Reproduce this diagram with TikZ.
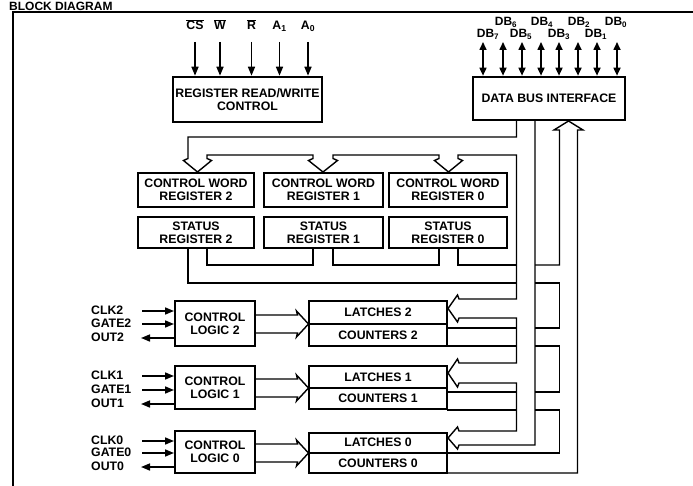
\documentclass[tikz,border=0pt]{standalone}
\usepackage{fontspec}
\setmainfont{Liberation Sans}
\usetikzlibrary{arrows.meta}
\begin{document}
\begin{tikzpicture}[x=1pt,y=-1pt,
  font=\fontsize{12.3}{13}\selectfont\bfseries,
  blk/.style={draw,line width=2.6pt,inner sep=0pt,align=center},
  mblk/.style={draw,line width=2pt,inner sep=0pt,align=center},
  bus/.style={line width=1.4pt,line join=miter},
  sig/.style={line width=1.6pt,-{Triangle[length=9pt,width=7pt]}},
  dsig/.style={line width=1.6pt,{Triangle[length=8pt,width=7pt]}-{Triangle[length=8pt,width=7pt]}},
  lbl/.style={inner sep=0pt,anchor=base west},
  clbl/.style={inner sep=0pt,anchor=base},
  frame/.style={line width=2pt}
]
\useasboundingbox (0,0) rectangle (693,486);

% title
\node[anchor=base west,inner sep=0pt,font=\fontsize{12}{12}\selectfont\bfseries] (title) at (9,10.2) {BLOCK DIAGRAM};

% frame
\coordinate (fbl) at (13,486);
\coordinate (ftl) at (13,12.5);
\coordinate (ftr) at (693,12.5);
\draw[frame] (fbl) -- (ftl) -- (ftr);

% upper boxes
\node[blk,minimum width=149pt,minimum height=45pt] (rrw) at (247.5,99.5) {REGISTER READ/WRITE\\CONTROL};
\node[blk,minimum width=152pt,minimum height=43pt] (dbi) at (549,98.5) {DATA BUS INTERFACE};

\node[blk,minimum width=116pt,minimum height=34pt] (cwr2) at (196,190) {CONTROL WORD\\REGISTER 2};
\node[blk,minimum width=119pt,minimum height=34pt] (cwr1) at (323.5,190) {CONTROL WORD\\REGISTER 1};
\node[blk,minimum width=118pt,minimum height=34pt] (cwr0) at (448,190) {CONTROL WORD\\REGISTER 0};
\node[blk,minimum width=116pt,minimum height=31pt] (sr2) at (196,232.5) {STATUS\\REGISTER 2};
\node[blk,minimum width=119pt,minimum height=31pt] (sr1) at (323.5,232.5) {STATUS\\REGISTER 1};
\node[blk,minimum width=118pt,minimum height=31pt] (sr0) at (448,232.5) {STATUS\\REGISTER 0};

% counter rows
\node[mblk,minimum width=80pt,minimum height=45pt] (cl2) at (215,323.5) {CONTROL\\LOGIC 2};
\node[mblk,minimum width=80pt,minimum height=43pt] (cl1) at (215,387.5) {CONTROL\\LOGIC 1};
\node[mblk,minimum width=80pt,minimum height=42pt] (cl0) at (215,452) {CONTROL\\LOGIC 0};
\node[mblk,minimum width=138pt,minimum height=23pt] (lat2) at (378,312.5) {LATCHES 2};
\node[mblk,minimum width=138pt,minimum height=22pt] (cnt2) at (378,335) {COUNTERS 2};
\node[mblk,minimum width=138pt,minimum height=22pt] (lat1) at (378,377) {LATCHES 1};
\node[mblk,minimum width=138pt,minimum height=21pt] (cnt1) at (378,398.5) {COUNTERS 1};
\node[mblk,minimum width=138pt,minimum height=20.5pt] (lat0) at (378,442.75) {LATCHES 0};
\node[mblk,minimum width=138pt,minimum height=20pt] (cnt0) at (378,463) {COUNTERS 0};

% top control inputs
\foreach \n/\x/\t in {cs/195/{$\overline{\hbox{CS}}$},w/220/{$\overline{\hbox{W}}$},r/251.5/{$\overline{\hbox{R}}$},aone/279.5/{A\textsubscript{1}},azero/308/{A\textsubscript{0}}}{
  \node[clbl] (l\n) at (\x,30) {\t};
  \coordinate (t\n) at (\x,42);
  \draw[sig] (t\n) -- (t\n |- rrw.north);
}

% data bus pins
\foreach \i/\x/\lx/\ly in {7/483/488/38,6/503/506/26,5/522/521/38,4/541/542/26,3/559/559/38,2/578/579/26,1/597/596/38,0/617/616/26}{
  \node[clbl,font=\fontsize{12}{12}\selectfont\bfseries] (ldb\i) at (\lx,\ly) {DB\textsubscript{\i}};
  \coordinate (tdb\i) at (\x,42);
  \draw[dsig] (tdb\i) -- (tdb\i |- dbi.north);
}

% write bus: DBI -> control word registers and latches
\draw[bus] (516.5,120) -- (516.5,137) -- (188,137) -- (188,158.5) -- (183.5,160.5) -- (197.5,172) -- (211.5,160.5) -- (207,158.5) -- (207,155)
  -- (313,155) -- (313,158.5) -- (308.5,160.5) -- (323,172) -- (337.5,160.5) -- (333,158.5) -- (333,155)
  -- (439,155) -- (439,158.5) -- (434.5,160.5) -- (448.5,172) -- (462.5,160.5) -- (458,158.5) -- (458,155)
  -- (516.5,155) -- (516.5,299) -- (459,299) -- (457.5,295) -- (448,308.5) -- (457.5,322) -- (459,318) -- (516.5,318)
  -- (516.5,363) -- (459,363) -- (457.5,359) -- (448,373) -- (457.5,387) -- (459,383) -- (516.5,383)
  -- (516.5,431) -- (459,431) -- (457.5,427) -- (448,438) -- (457.5,449) -- (459,445) -- (535,445) -- (535,120);

% read bus: status registers and counters -> DBI
\draw[bus] (535,265) -- (559.5,265) -- (559.5,130) -- (554,130) -- (568.5,121) -- (583,130) -- (577.5,130) -- (577.5,473) -- (447,473);
\draw[bus] (535,283) -- (559.5,283) -- (559.5,328) -- (535,328);
\draw[bus] (535,346) -- (559.5,346) -- (559.5,392) -- (535,392);
\draw[bus] (535,410) -- (559.5,410) -- (559.5,453) -- (447,453);

% status register outputs
\draw[bus] (188,248) -- (188,283) -- (516.5,283);
\draw[bus] (207,248) -- (207,265) -- (313,265) -- (313,248);
\draw[bus] (333,248) -- (333,265) -- (439,265) -- (439,248);
\draw[bus] (458,248) -- (458,265) -- (516.5,265);

% counter outputs
\draw[bus] (447,328) -- (516.5,328);
\draw[bus] (447,346) -- (516.5,346);
\draw[bus] (447,392) -- (516.5,392);
\draw[bus] (447,410) -- (516.5,410);

% control logic -> latches/counters
\foreach \c in {324,388,453}{
  \draw[bus] (255,\c-9) -- (297.5,\c-9) -- (296.5,\c-13) -- (308.5,\c) -- (296.5,\c+13) -- (297.5,\c+9) -- (255,\c+9);
}

% clock, gate and out signals
\foreach \r/\a/\b/\o in {2/311/324/338,1/376/390/404,0/441/453/467}{
  \node[lbl] (lclk\r) at (91,\a+3.4) {CLK\r};
  \node[lbl] (lgate\r) at (91,\b+3.4) {GATE\r};
  \node[lbl] (lout\r) at (91,\o+3.4) {OUT\r};
  \coordinate (clk\r) at (142,\a);
  \coordinate (gate\r) at (142,\b);
  \coordinate (out\r) at (141,\o);
  \draw[sig] (clk\r) -- (clk\r -| cl\r.west);
  \draw[sig] (gate\r) -- (gate\r -| cl\r.west);
  \draw[sig] (out\r -| cl\r.west) -- (out\r);
}
\end{tikzpicture}
\end{document}
